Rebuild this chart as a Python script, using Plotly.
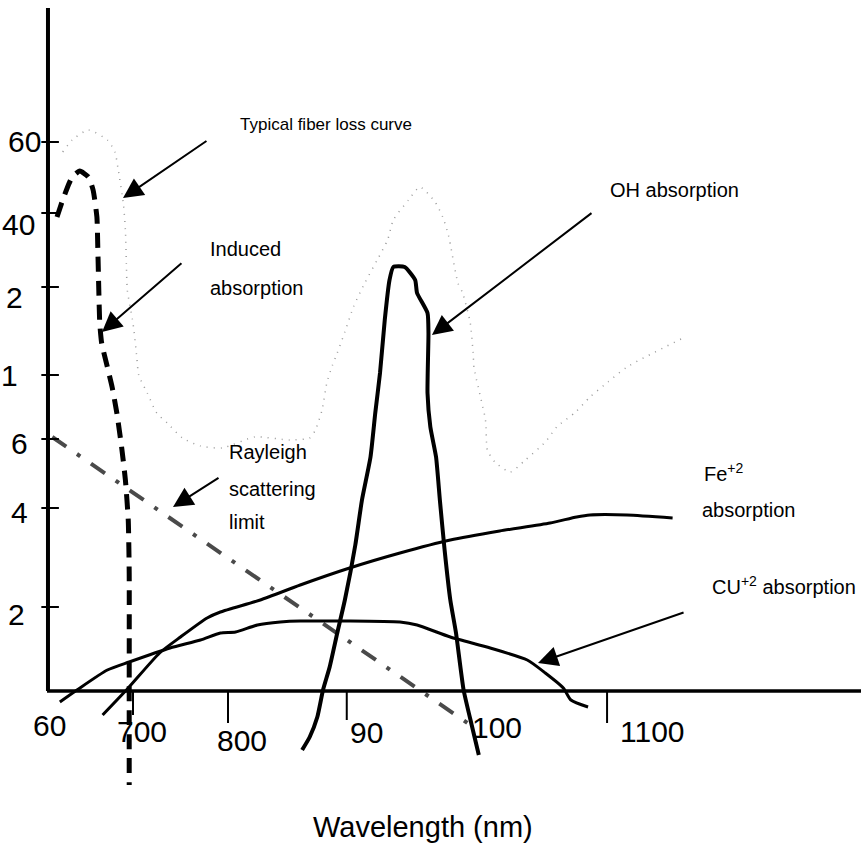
import plotly.graph_objects as go

# ---------------- data (wavelength in nm, loss in relative units) ----------------
induced_nm = [620, 626, 632, 636, 644, 653, 658, 662, 663, 664, 665, 667, 673, 678, 683, 688, 692, 695, 696, 696, 696]
induced_y = [47.4, 49.1, 50.6, 51.4, 52.0, 51.4, 50.1, 47.4, 44.1, 40.1, 36.8, 34.8, 32.4, 30.4, 27.8, 24.4, 21.1, 17.1, 11.8, 0.1, -9.4]

rayleigh_nm = [615, 1052]
rayleigh_y = [25.4, -3.2]

fiber_nm = [626, 636, 653, 673, 681, 684, 690, 692, 693, 694, 700, 704, 706, 715, 725, 736, 752, 771, 794, 828,
            865, 886, 892, 899, 904, 910, 915, 923, 932, 944, 957, 968, 974, 990, 1002, 1018, 1026, 1032, 1042,
            1047, 1055, 1058, 1059, 1071, 1073, 1081, 1097, 1113, 1134, 1146, 1166, 1181, 1200, 1220, 1279]
fiber_y = [53.9, 55.1, 56.1, 55.1, 53.9, 52.4, 48.6, 46.1, 42.8, 40.1, 36.8, 33.4, 31.6, 29.8, 27.8, 26.8, 25.3, 24.5, 24.3, 25.4,
           25.1, 25.3, 26.1, 28.1, 30.8, 32.6, 33.8, 35.9, 38.4, 40.8, 43.1, 45.1, 47.1, 49.1, 50.4, 48.9, 47.4, 45.6, 40.8,
           39.8, 36.8, 33.8, 32.3, 27.1, 24.1, 22.9, 21.9, 23.1, 24.9, 26.4, 27.9, 29.4, 30.9, 32.4, 35.3]

cu_nm = [623, 641, 673, 696, 739, 771, 792, 808, 831, 855, 876, 981, 999, 1034, 1076, 1115, 1134, 1153, 1161, 1179]
cu_y = [-1.1, 0.1, 2.1, 2.9, 4.3, 5.1, 5.8, 5.9, 6.6, 6.9, 7.0, 6.9, 6.6, 5.4, 4.3, 3.1, 1.8, 0.3, -0.9, -1.6]

fe_nm = [668, 695, 728, 750, 778, 792, 834, 876, 928, 981, 1034, 1086, 1139, 1167, 1181, 1220, 1268]
fe_y = [-2.4, 0.3, 3.8, 5.4, 7.3, 7.9, 9.1, 10.6, 12.3, 13.8, 15.1, 16.0, 16.8, 17.4, 17.6, 17.6, 17.3]

oh_nm = [878, 886, 894, 900, 907, 915, 923, 934, 941, 950, 955, 960, 965, 970, 974, 986, 997, 999, 1010, 1011,
         1010, 1013, 1019, 1023, 1028, 1034, 1040, 1048, 1057, 1064]
oh_y = [-5.9, -4.6, -2.6, 0.1, 2.4, 5.8, 9.1, 14.6, 19.1, 23.4, 27.8, 31.8, 37.1, 41.1, 42.4, 42.4, 41.1, 39.8, 37.8, 35.8,
        29.8, 26.4, 23.4, 19.1, 14.1, 9.1, 5.8, 0.1, -3.6, -6.4]

# axes drawn by hand in the original
axis_x0, axis_x1, axis_ytop = 610.5, 1470, 68.3
ytick_vals = [54.9, 47.8, 40.4, 31.6, 25.2, 18.3, 8.4]
ytick_text = ["60", "40", "2", "1", "6", "4", "2"]
ytick_label_nm = [605, 599, 586, 581, 592, 592, 588]
ytick_label_y = [55.0, 46.7, 39.4, 31.6, 24.8, 17.9, 7.7]

xtick_vals = [700, 800, 925, 1199]
xtick_len = [2.4, 3.2, 2.9, 3.2]
xlabel_text = ["60", "700", "800", "90", "100", "1100"]
xlabel_nm = [612.6, 709.5, 814.7, 946.3, 1083.2, 1246.3]
xlabel_y = [-3.4, -4.0, -4.9, -4.1, -3.6, -4.0]

# annotation texts (text, left x, middle y, font size)
notes = [
    ("Typical fiber loss curve", 810.5, 56.7, 17),
    ("Induced", 778.9, 44.2, 20),
    ("absorption", 778.9, 40.3, 20),
    ("OH absorption", 1200.0, 50.1, 20),
    ("Rayleigh", 799.0, 23.9, 20),
    ("scattering", 799.0, 20.2, 20),
    ("limit", 799.0, 16.9, 20),
    ("Fe<sup>+2</sup>", 1298.9, 21.9, 20),
    ("absorption", 1296.8, 18.1, 20),
    ("CU<sup>+2</sup> absorption", 1307.4, 10.6, 20),
]
# arrows: (head_nm, head_y, tail_nm, tail_y)
arrows = [
    (689.5, 49.3, 778.9, 55.1),
    (667.4, 35.9, 752.6, 42.9),
    (1014.7, 35.6, 1184.2, 47.9),
    (742.1, 18.4, 791.6, 21.4),
    (1126.3, 2.8, 1281.1, 7.9),
]

FONT = "Liberation Sans, Arial, Helvetica, sans-serif"

fig = go.Figure()

# fiber loss (dotted, light)
fig.add_trace(go.Scatter(x=fiber_nm, y=fiber_y, mode="lines",
                         line=dict(color="#9a9a9a", width=1.5, dash="1px,6px", shape="spline", smoothing=0.6)))
# Rayleigh limit (dash-dot)
fig.add_trace(go.Scatter(x=rayleigh_nm, y=rayleigh_y, mode="lines",
                         line=dict(color="#4a4a4a", width=4, dash="17px,13px,4px,13px")))
# Cu
fig.add_trace(go.Scatter(x=cu_nm, y=cu_y, mode="lines",
                         line=dict(color="black", width=3, shape="spline", smoothing=0.6)))
# Fe
fig.add_trace(go.Scatter(x=fe_nm, y=fe_y, mode="lines",
                         line=dict(color="black", width=3, shape="spline", smoothing=0.6)))
# OH
fig.add_trace(go.Scatter(x=oh_nm, y=oh_y, mode="lines",
                         line=dict(color="black", width=4, shape="spline", smoothing=0.5)))
# induced absorption (dashed)
fig.add_trace(go.Scatter(x=induced_nm, y=induced_y, mode="lines",
                         line=dict(color="black", width=5, dash="15px,9px", shape="spline", smoothing=0.5)))

# axes lines
fig.add_shape(type="line", x0=axis_x0, x1=axis_x0, y0=0, y1=axis_ytop, line=dict(color="black", width=4))
fig.add_shape(type="line", x0=axis_x0 - 1, x1=axis_x1, y0=0, y1=0, line=dict(color="black", width=3.5))
for v in ytick_vals:
    fig.add_shape(type="line", x0=603.5, x1=622, y0=v, y1=v, line=dict(color="black", width=2))
for v, L in zip(xtick_vals, xtick_len):
    fig.add_shape(type="line", x0=v, x1=v, y0=0, y1=-L, line=dict(color="black", width=2))

for t, xx, yy in zip(ytick_text, ytick_label_nm, ytick_label_y):
    fig.add_annotation(x=xx, y=yy, text=t, showarrow=False, xanchor="right", yanchor="middle",
                       font=dict(family=FONT, size=30, color="black"))
for t, xx, yy in zip(xlabel_text, xlabel_nm, xlabel_y):
    fig.add_annotation(x=xx, y=yy, text=t, showarrow=False, xanchor="center", yanchor="middle",
                       font=dict(family=FONT, size=30, color="black"))

for t, xx, yy, fs in notes:
    fig.add_annotation(x=xx, y=yy, text=t, showarrow=False, xanchor="left", yanchor="middle",
                       font=dict(family=FONT, size=fs, color="black"))

for hx, hy, tx, ty in arrows:
    fig.add_annotation(x=hx, y=hy, ax=tx, ay=ty, axref="x", ayref="y", text="", showarrow=True,
                       arrowhead=2, arrowsize=2, arrowwidth=2, arrowcolor="black", standoff=0)

fig.add_annotation(x=1005, y=-13.6, text="Wavelength (nm)", showarrow=False, xanchor="center",
                   yanchor="middle", font=dict(family=FONT, size=29, color="black"))

fig.update_layout(
    width=861, height=849,
    margin=dict(l=0, r=0, t=0, b=0),
    paper_bgcolor="white", plot_bgcolor="white",
    showlegend=False,
    xaxis=dict(range=[560, 1466.3], visible=False, fixedrange=True),
    yaxis=dict(range=[-15.8, 69.1], visible=False, fixedrange=True),
)

fig.write_html("out.html", config={"displayModeBar": False, "staticPlot": True},
               post_script="document.body.style.margin='0px';document.body.style.overflow='hidden';")
